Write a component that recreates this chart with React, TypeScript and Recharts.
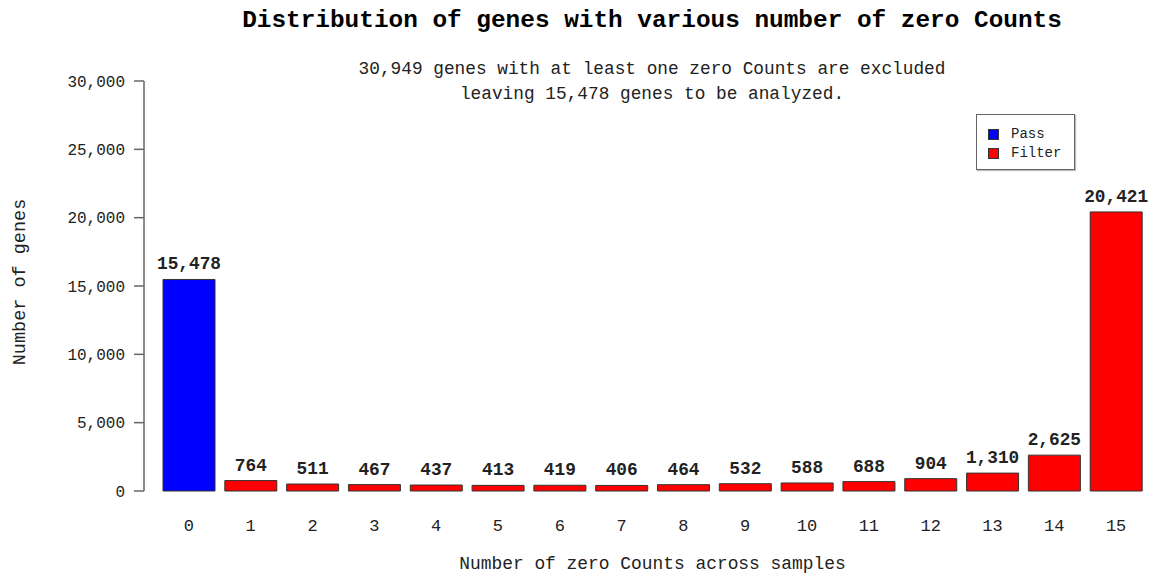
import React from 'react';
import { BarChart, Bar, XAxis, YAxis, Cell, LabelList } from 'recharts';

const zeroCounts = ['0', '1', '2', '3', '4', '5', '6', '7', '8', '9', '10', '11', '12', '13', '14', '15'];
const geneCounts = [15478, 764, 511, 467, 437, 413, 419, 406, 464, 532, 588, 688, 904, 1310, 2625, 20421];
const groups = ['Pass', 'Filter', 'Filter', 'Filter', 'Filter', 'Filter', 'Filter', 'Filter', 'Filter', 'Filter', 'Filter', 'Filter', 'Filter', 'Filter', 'Filter', 'Filter'];
const yTicks = [0, 5000, 10000, 15000, 20000, 25000, 30000];

const GROUP_COLORS: Record<string, string> = {
  Pass: '#0000FF',
  Filter: '#FF0000'
};

const FONT = '"Liberation Mono", "DejaVu Sans Mono", monospace';

const chartData = zeroCounts.map((c, i) => ({
  name: c,
  genes: geneCounts[i],
  group: groups[i]
}));

const fmt = (v: number) => Number(v).toLocaleString('en-US');

const YLabel = (props: any) => {
  const { viewBox } = props;
  const cy = viewBox.y + viewBox.height / 2 - 4;
  return (
    <text x={20} y={cy} transform={`rotate(-90, 20, ${cy})`} textAnchor="middle"
      dominantBaseline="central" fontFamily={FONT} fontSize={18.5} fill="#222">
      Number of genes
    </text>
  );
};

const XLabel = (props: any) => {
  const { viewBox } = props;
  return (
    <text x={viewBox.x + viewBox.width / 2 + 7} y={564} textAnchor="middle"
      dominantBaseline="central" fontFamily={FONT} fontSize={17.9} fill="#222">
      Number of zero Counts across samples
    </text>
  );
};

export default function App() {
  return (
    <div style={{ position: 'absolute', left: 0, top: 0, width: 1150, height: 574, background: '#fff' }}>
      <div style={{
        position: 'absolute', left: 0, width: 1150, top: 7, textAlign: 'center', paddingLeft: 154,
        boxSizing: 'border-box', fontFamily: FONT, fontWeight: 'bold', fontSize: 24.4, color: '#000', lineHeight: '28px'
      }}>
        Distribution of genes with various number of zero Counts
      </div>
      <div style={{
        position: 'absolute', left: 0, width: 1150, top: 57, textAlign: 'center', paddingLeft: 154,
        boxSizing: 'border-box', fontFamily: FONT, fontSize: 17.8, color: '#222', lineHeight: '25px'
      }}>
        30,949 genes with at least one zero Counts are excluded<br />
        leaving 15,478 genes to be analyzed.
      </div>
      <div style={{
        position: 'absolute', left: 976, top: 114, width: 97, height: 54, border: '1px solid #666',
        boxShadow: '1px 1px 1px #bbb', fontFamily: FONT, fontSize: 14, color: '#222', background: '#fff'
      }}>
        {['Pass', 'Filter'].map((g, i) => (
          <div key={g} style={{ position: 'absolute', left: 11, top: 11 + i * 19, display: 'flex', alignItems: 'center', lineHeight: '16px' }}>
            <span style={{ display: 'inline-block', width: 9, height: 9, background: GROUP_COLORS[g], border: '1px solid #333', marginRight: 12 }} />
            {g}
          </div>
        ))}
      </div>
      <BarChart
        width={1150}
        height={574}
        data={chartData}
        margin={{ top: 81, right: 3, bottom: 0, left: 0 }}
        barSize={52}
      >
        <XAxis
          dataKey="name"
          height={83}
          padding={{ left: 14, right: 0 }}
          axisLine={false}
          tickLine={false}
          tick={{ fontFamily: FONT, fontSize: 17, fill: '#222', dy: 20 }}
          interval={0}
          label={<XLabel />}
        />
        <YAxis
          width={144}
          domain={[0, 30000]}
          ticks={yTicks}
          tickFormatter={fmt}
          axisLine={{ stroke: '#666', strokeWidth: 1.5 }}
          tickLine={{ stroke: '#666', strokeWidth: 1.5 }}
          tickSize={10}
          tickMargin={9}
          tick={{ fontFamily: FONT, fontSize: 16, fill: '#222' }}
          label={<YLabel />}
        />
        <Bar dataKey="genes" stroke="#333" strokeWidth={1} isAnimationActive={false}>
          {chartData.map((d, i) => (
            <Cell key={i} fill={GROUP_COLORS[d.group]} />
          ))}
          <LabelList dataKey="genes" position="top" offset={10} formatter={(v: any) => fmt(v)}
            style={{ fontFamily: FONT, fontSize: 17.8, fontWeight: 'bold', fill: '#222' }} />
        </Bar>
      </BarChart>
    </div>
  );
}
